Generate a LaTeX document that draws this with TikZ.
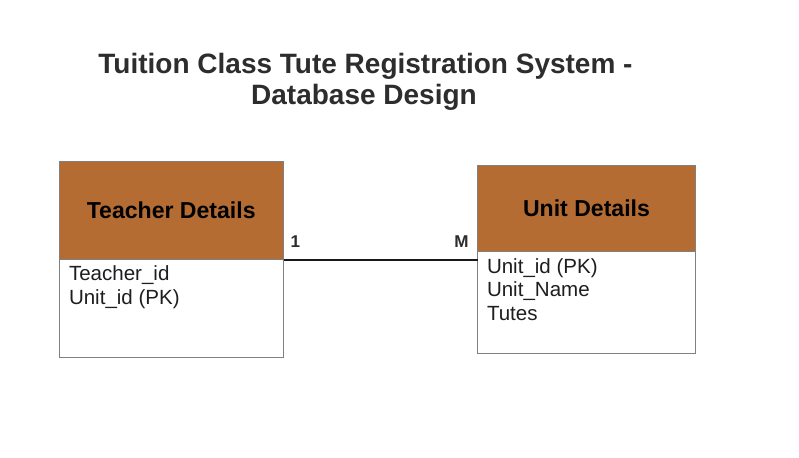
\documentclass[tikz,border=0pt]{standalone}
\usepackage{fontspec}
\setmainfont{Liberation Sans}
\begin{document}
\definecolor{headbrown}{RGB}{180,108,51}
\definecolor{edgegray}{RGB}{128,128,128}
\definecolor{titlegray}{RGB}{45,45,45}
\definecolor{textdark}{RGB}{30,30,30}
\begin{tikzpicture}[x=0.75pt,y=-0.75pt,
  every node/.style={inner sep=0pt, outer sep=0pt},
  titletext/.style={font=\fontsize{21}{24}\selectfont\bfseries, text=titlegray, anchor=base},
  headbox/.style={draw=edgegray, line width=0.75pt, fill=headbrown, anchor=north west,
    font=\fontsize{17.3}{20}\selectfont\bfseries, text=black},
  bodybox/.style={draw=edgegray, line width=0.75pt, fill=white, anchor=north west},
  field/.style={font=\fontsize{15.4}{18}\selectfont, text=textdark, anchor=base west},
  cardinal/.style={font=\fontsize{12.8}{15}\selectfont\bfseries, text=titlegray},
  relation/.style={line width=1.5pt, draw=black!90}]
  \useasboundingbox[fill=white] (0,0) rectangle (799,457);

  % Title
  \node[titletext] (title1) at (365.5,73) {Tuition Class Tute Registration System -};
  \node[titletext] (title2) at (364,104) {Database Design};

  % Teacher Details entity
  \node[bodybox, minimum width=224.5*0.75pt, minimum height=98*0.75pt] (teacherBody) at (59,259.5) {};
  \node[headbox, minimum width=224.5*0.75pt, minimum height=98*0.75pt] (teacherHead) at (59,161.5) {Teacher Details};
  \node[field] (tf1) at (69,280) {Teacher\_id};
  \node[field] (tf2) at (69,304) {Unit\_id (PK)};

  % Unit Details entity
  \node[bodybox, minimum width=218*0.75pt, minimum height=102*0.75pt] (unitBody) at (477.5,251.5) {};
  \node[headbox, minimum width=218*0.75pt, minimum height=86*0.75pt] (unitHead) at (477.5,165.5) {Unit Details};
  \node[field] (uf1) at (487,273.3) {Unit\_id (PK)};
  \node[field] (uf2) at (487,296.6) {Unit\_Name};
  \node[field] (uf3) at (487,320) {Tutes};

  % One-to-many relationship
  \coordinate (relEnd) at (teacherBody.north east -| unitBody.west);
  \draw[relation] (teacherBody.north east) -- (relEnd);
  \node[cardinal, anchor=base west] (oneSide) at (290.5,247.3) {1};
  \node[cardinal, anchor=base east] (manySide) at (468.5,247.3) {M};
\end{tikzpicture}
\end{document}
